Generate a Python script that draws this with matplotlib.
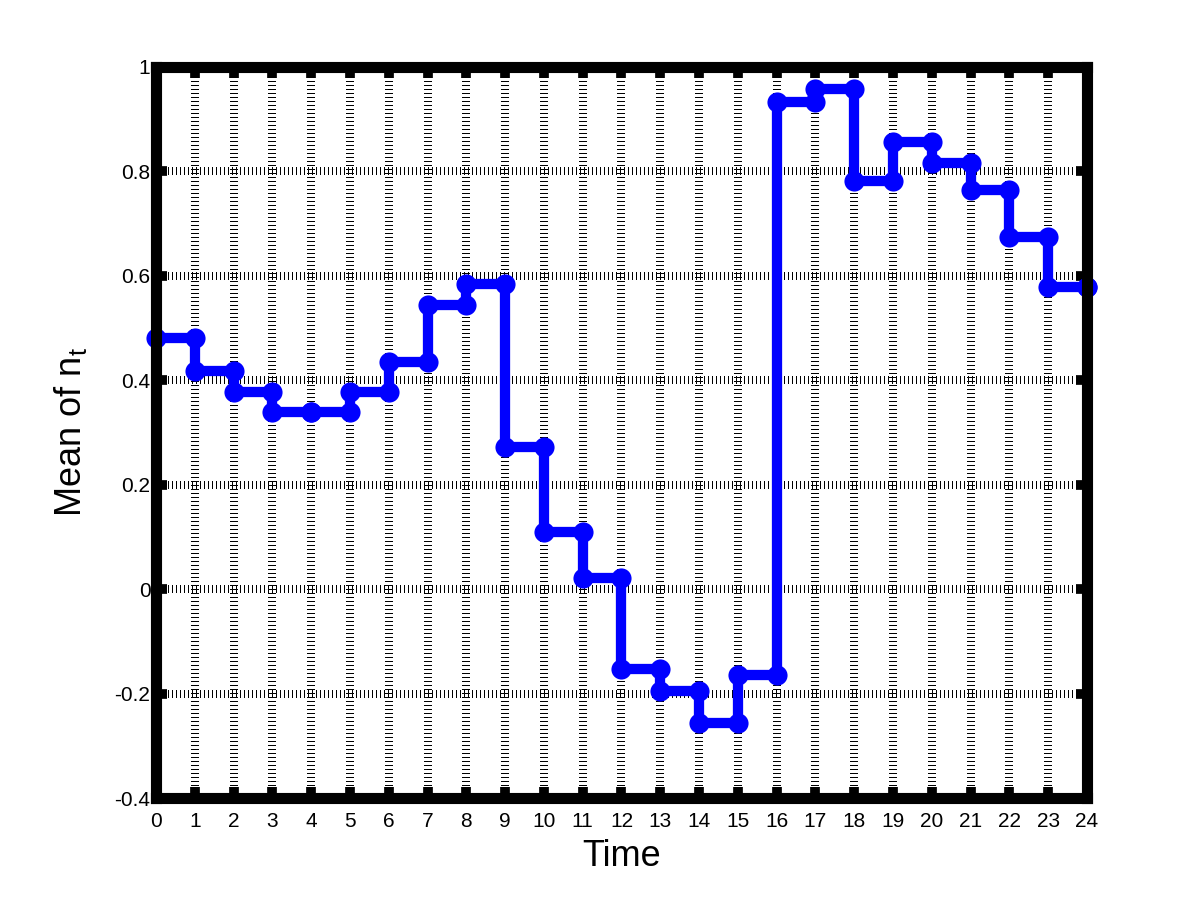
import numpy as np
import matplotlib
matplotlib.use("Agg")
import matplotlib.pyplot as plt

plt.rcParams['font.family'] = ['Liberation Sans', 'DejaVu Sans']
plt.rcParams['mathtext.default'] = 'regular'
plt.rcParams['lines.scale_dashes'] = False

# Data: time steps and stair levels (last level repeated for final point)
time = np.arange(0, 25)
mean_nt = [0.481, 0.418, 0.377, 0.340, 0.340, 0.377, 0.435, 0.545, 0.585,
           0.273, 0.109, 0.022, -0.153, -0.195, -0.256, -0.164, 0.933,
           0.958, 0.782, 0.857, 0.816, 0.764, 0.675, 0.578, 0.578]
xticks = list(range(0, 25))
yticks = [-0.4, -0.2, 0, 0.2, 0.4, 0.6, 0.8, 1]
ytick_labels = ['-0.4', '-0.2', '0', '0.2', '0.4', '0.6', '0.8', '1']

# MATLAB-style stairs vertices
t = np.asarray(time, dtype=float)
v = np.asarray(mean_nt, dtype=float)
xs = np.repeat(t, 2)[1:]
ys = np.repeat(v, 2)[:-1]

fig = plt.figure(figsize=(12, 9), dpi=100)
ax = fig.add_axes([0.13, 0.1133, 0.7758, 0.8123])

ax.plot(xs, ys, color=(0, 0, 1), lw=7.4, marker='o', ms=14.5, mew=0,
        mfc=(0, 0, 1), clip_on=False, zorder=5, solid_joinstyle='miter')

ax.set_xlim(0, 24)
ax.set_ylim(-0.4, 1)
ax.set_xticks(xticks)
ax.set_xticklabels([str(x) for x in xticks])
ax.set_yticks(yticks)
ax.set_yticklabels(ytick_labels)

ax.grid(True, color='black', lw=5.5, linestyle=(0, (0.6, 2.4)),
        dash_capstyle='butt', antialiased=False)
ax.set_axisbelow(True)

for s in ax.spines.values():
    s.set_linewidth(8)
    s.set_zorder(6)

ax.tick_params(direction='in', length=8, width=7, top=True, right=True,
               labelsize=15)
ax.tick_params(axis='x', pad=10)
ax.tick_params(axis='y', pad=4)

ax.set_xlabel('Time', fontsize=26, labelpad=6)
ax.set_ylabel('Mean of n$_t$', fontsize=26, labelpad=18)

fig.savefig('out.png', dpi=100)
